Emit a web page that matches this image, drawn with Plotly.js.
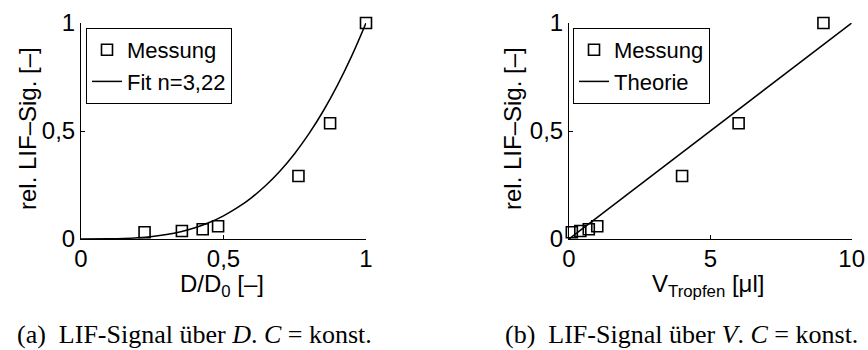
<!DOCTYPE html>
<html>
<head>
<meta charset="utf-8">
<script src="https://cdn.plot.ly/plotly-3.0.1.min.js"></script>
<style>
  html, body { margin: 0; padding: 0; background: #fff; }
  #chart { width: 868px; height: 350px; }
</style>
</head>
<body>
<div id="chart"></div>
<script>
// ---- data ----
const measD   = [0.223, 0.354, 0.427, 0.481, 0.763, 0.874, 1.0];   // D/D0 [-]
const measV   = [0.1, 0.4, 0.7, 1.0, 4.0, 6.0, 9.0];               // V_Tropfen [µl]
const measSig = [0.031, 0.037, 0.045, 0.059, 0.292, 0.536, 1.0];   // rel. LIF-Sig. [-]

const fitX = [0, 0.1, 0.15, 0.2, 0.25, 0.3, 0.35, 0.4, 0.45, 0.5, 0.55, 0.6, 0.65, 0.7, 0.75, 0.8, 0.85, 0.9, 0.95, 1.0];
const fitY = [0, 0.0006, 0.0022, 0.0056, 0.0115, 0.0207, 0.034, 0.0523, 0.0764, 0.1073, 0.1459, 0.1931, 0.2498, 0.3171, 0.396, 0.4875, 0.5926, 0.7123, 0.8477, 1.0];

const theoX = [0, 10];
const theoY = [0, 1];

const leftTickVals  = [0, 0.5, 1];
const leftTickText  = ["0", "0,5", "1"];
const rightTickVals = [0, 5, 10];
const rightTickText = ["0", "5", "10"];
const yTickVals = [0, 0.5, 1];
const yTickText = ["0", "0,5", "1"];

const legendNamesLeft  = ["Messung", "Fit n=3,22"];
const legendNamesRight = ["Messung", "Theorie"];

// ---- styling / layout ----
const W = 868, H = 350;
const px = x => x / W;
const py = y => 1 - y / H;

const SANS = "Liberation Sans, Arial, sans-serif";
const SERIF = "Liberation Serif, Times New Roman, serif";
const FS = 24;

const markerStyle = { symbol: "square-open", size: 11, color: "#000", line: { color: "#000", width: 1.6 } };
const lineStyle = { color: "#000", width: 1.5 };

const traces = [
  { x: measD, y: measSig, type: "scatter", mode: "markers", name: legendNamesLeft[0],
    marker: markerStyle, xaxis: "x", yaxis: "y", cliponaxis: false, legend: "legend" },
  { x: fitX, y: fitY, type: "scatter", mode: "lines", name: legendNamesLeft[1],
    line: Object.assign({ shape: "spline" }, lineStyle), xaxis: "x", yaxis: "y", cliponaxis: false, legend: "legend" },
  { x: measV, y: measSig, type: "scatter", mode: "markers", name: legendNamesRight[0],
    marker: markerStyle, xaxis: "x2", yaxis: "y2", cliponaxis: false, legend: "legend2" },
  { x: theoX, y: theoY, type: "scatter", mode: "lines", name: legendNamesRight[1],
    line: lineStyle, xaxis: "x2", yaxis: "y2", cliponaxis: false, legend: "legend2" }
];

const axisCommon = {
  showline: true, linecolor: "#000", linewidth: 1,
  ticks: "inside", ticklen: 4, tickwidth: 1, tickcolor: "#000",
  showgrid: false, zeroline: false, mirror: false,
  tickfont: { family: SANS, size: FS, color: "#000" },
  fixedrange: true, automargin: false
};

const xAxisExtra = { ticklabelstandoff: -2 };

const yDom = [py(239), py(23)];

const legendCommon = {
  xanchor: "left", yanchor: "top",
  bgcolor: "#fff", bordercolor: "#000", borderwidth: 1,
  font: { family: SANS, size: 22, color: "#000" },
  tracegroupgap: 0, itemwidth: 30
};

const layout = {
  width: W, height: H,
  margin: { l: 0, r: 0, t: 0, b: 0 },
  paper_bgcolor: "#fff", plot_bgcolor: "rgba(0,0,0,0)",
  showlegend: true,
  xaxis: Object.assign({}, axisCommon, xAxisExtra, { domain: [px(81), px(366)], range: [0, 1],
    tickmode: "array", tickvals: leftTickVals, ticktext: leftTickText, anchor: "y" }),
  yaxis: Object.assign({}, axisCommon, { domain: yDom, range: [0, 1],
    tickmode: "array", tickvals: yTickVals, ticktext: yTickText, anchor: "x" }),
  xaxis2: Object.assign({}, axisCommon, xAxisExtra, { domain: [px(569), px(851.7)], range: [0, 10],
    tickmode: "array", tickvals: rightTickVals, ticktext: rightTickText, anchor: "y2" }),
  yaxis2: Object.assign({}, axisCommon, { domain: yDom, range: [0, 1],
    tickmode: "array", tickvals: yTickVals, ticktext: yTickText, anchor: "x2" }),
  legend: Object.assign({}, legendCommon, { x: px(86), y: py(28) }),
  legend2: Object.assign({}, legendCommon, { x: px(573), y: py(28) }),
  annotations: [
    { text: "rel. LIF\u2013Sig. [\u2013]", xref: "paper", yref: "paper", x: px(27), y: py(129),
      textangle: -90, showarrow: false, xanchor: "center", yanchor: "middle",
      font: { family: SANS, size: FS, color: "#000" } },
    { text: "rel. LIF\u2013Sig. [\u2013]", xref: "paper", yref: "paper", x: px(512), y: py(129),
      textangle: -90, showarrow: false, xanchor: "center", yanchor: "middle",
      font: { family: SANS, size: FS, color: "#000" } },
    { text: "D/D<sub>0</sub> [\u2013]", xref: "paper", yref: "paper", x: px(222), y: py(268),
      showarrow: false, xanchor: "center", yanchor: "top",
      font: { family: SANS, size: FS, color: "#000" } },
    { text: "V<sub>Tropfen</sub> [\u03bcl]", xref: "paper", yref: "paper", x: px(708), y: py(268),
      showarrow: false, xanchor: "center", yanchor: "top",
      font: { family: SANS, size: FS, color: "#000" } },
    { text: "(a)\u2002LIF-Signal über <i>D</i>. <i>C</i> = konst.", xref: "paper", yref: "paper",
      x: px(194), y: py(334), showarrow: false, xanchor: "center", yanchor: "middle",
      font: { family: SERIF, size: 26, color: "#000" } },
    { text: "(b)\u2002LIF-Signal über <i>V</i>. <i>C</i> = konst.", xref: "paper", yref: "paper",
      x: px(681), y: py(334), showarrow: false, xanchor: "center", yanchor: "middle",
      font: { family: SERIF, size: 26, color: "#000" } }
  ]
};

Plotly.newPlot("chart", traces, layout, { staticPlot: true, displayModeBar: false });
</script>
</body>
</html>
